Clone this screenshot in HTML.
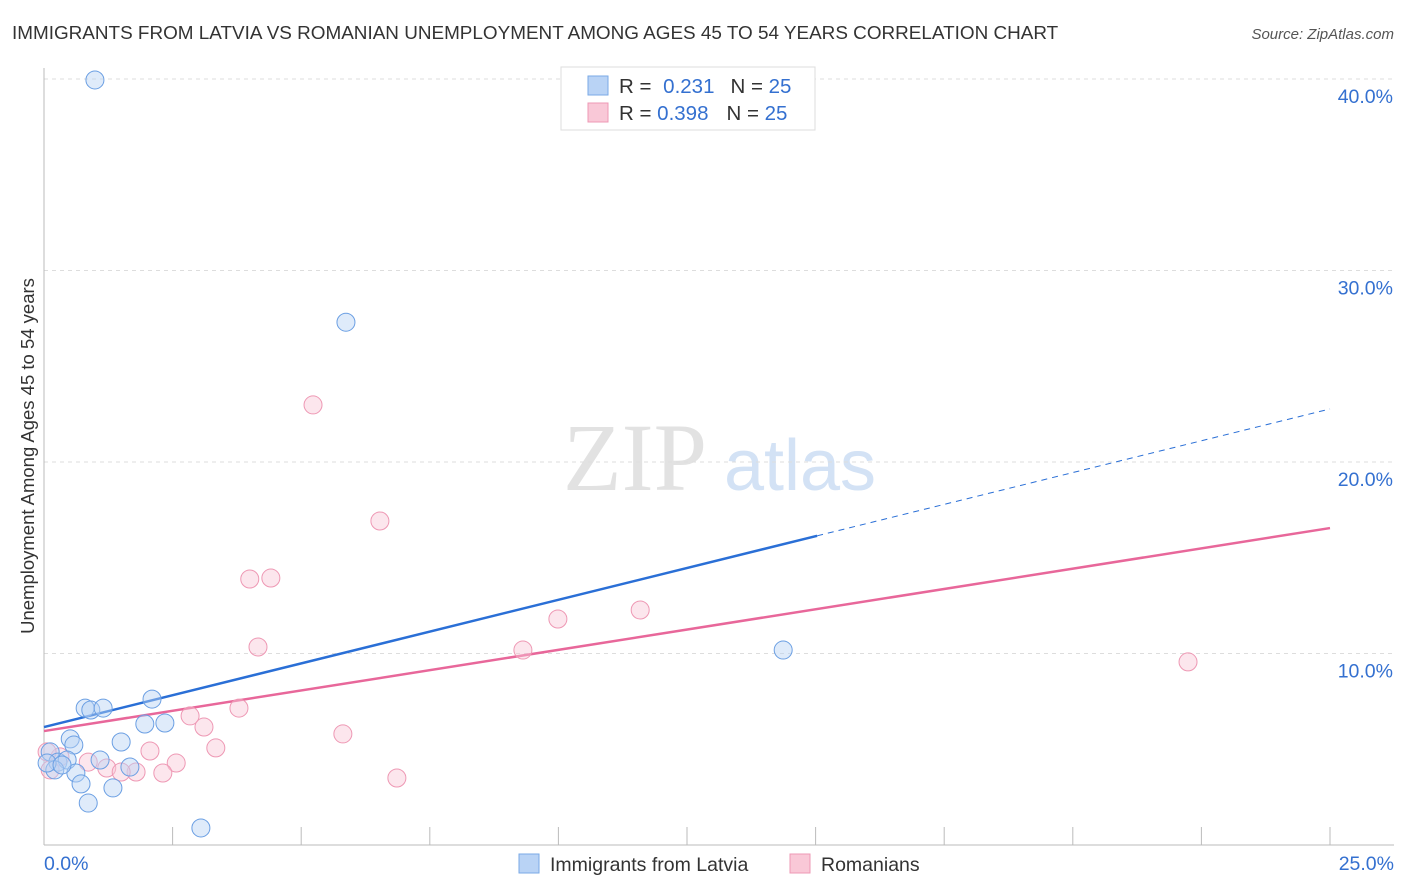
<!DOCTYPE html>
<html><head><meta charset="utf-8"><style>
body{margin:0;background:#fff;font-family:"Liberation Sans",sans-serif;}
svg{display:block}
</style></head><body>
<svg id="chart" width="1406" height="892">
<text x="12" y="39" font-size="18.9" fill="#333">IMMIGRANTS FROM LATVIA VS ROMANIAN UNEMPLOYMENT AMONG AGES 45 TO 54 YEARS CORRELATION CHART</text>
<text x="1394" y="39" font-size="15" fill="#555" font-style="italic" text-anchor="end">Source: ZipAtlas.com</text>
<text x="34" y="456" font-size="18.5" fill="#333" text-anchor="middle" transform="rotate(-90 34 456)">Unemployment Among Ages 45 to 54 years</text>
<g><text x="635" y="490" font-size="96" fill="#e2e2e2" font-family="Liberation Serif,serif" text-anchor="middle">ZIP</text><text x="800" y="490" font-size="72" fill="#d3e2f5" text-anchor="middle">atlas</text></g>
<g id="grid"></g><g id="axes"></g><g id="trends"></g><g id="pts"></g>
<g>
<rect x="561" y="67" width="254" height="63" fill="#fff" stroke="#ddd"/>
<rect x="588" y="76" width="20" height="19" fill="#b9d3f5" stroke="#7aaae6"/>
<rect x="588" y="103" width="20" height="19" fill="#f9c8d7" stroke="#ee98b4"/>
<text x="619" y="93" font-size="20.5" fill="#333">R = <tspan fill="#3470d0" dx="6">0.231</tspan><tspan dx="16" fill="#333">N = </tspan><tspan fill="#3470d0">25</tspan></text>
<text x="619" y="120" font-size="20.5" fill="#333">R = <tspan fill="#3470d0">0.398</tspan><tspan dx="18" fill="#333">N = </tspan><tspan fill="#3470d0">25</tspan></text>
</g>
<g>
<rect x="519" y="854" width="20" height="19" fill="#b9d3f5" stroke="#7aaae6"/>
<text x="550" y="871" font-size="19.5" fill="#333">Immigrants from Latvia</text>
<rect x="790" y="854" width="20" height="19" fill="#f9c8d7" stroke="#ee98b4"/>
<text x="821" y="871" font-size="19.5" fill="#333">Romanians</text>
</g>
</svg>
<script>
const yTicks=[10,20,30,40];
const yTickLabels=["10.0%","20.0%","30.0%","40.0%"];
const latviaX=[0.99,5.87,14.37,2.10,0.80,0.91,1.15,1.96,2.35,0.51,1.50,0.58,0.12,0.27,0.45,1.09,0.21,0.62,1.67,0.72,1.34,0.86,3.05,0.06,0.35];
const latviaY=[39.95,27.3,10.18,7.62,7.15,7.05,7.15,6.32,6.37,5.54,5.38,5.22,4.86,4.33,4.44,4.44,3.92,3.76,4.07,3.19,2.98,2.19,0.89,4.28,4.18];
const romX=[5.23,6.53,4.00,4.41,4.16,9.99,11.59,9.31,22.24,3.79,2.84,3.11,5.81,3.34,2.06,2.57,1.22,1.79,1.50,2.31,6.86,0.31,0.06,0.86,0.12];
const romY=[22.98,16.92,13.89,13.94,10.34,11.8,12.27,10.18,9.56,7.15,6.74,6.16,5.80,5.07,4.91,4.28,4.02,3.81,3.81,3.76,3.50,4.60,4.86,4.33,3.92];
const latviaTrend=[6.16,22.77];
const romTrend=[5.95,16.55];
const latviaSolidEnd=15.03;
const NS="http://www.w3.org/2000/svg";
const sx=v=>44+v*51.44, sy=v=>845-v*19.15;
function mk(t,a,p){const e=document.createElementNS(NS,t);for(const k in a)e.setAttribute(k,a[k]);p.appendChild(e);return e;}
const grid=document.getElementById('grid'),axes=document.getElementById('axes'),tr=document.getElementById('trends'),pts=document.getElementById('pts');
yTicks.forEach((v,i)=>{
 const l=mk('line',{x1:44,x2:1394,y1:sy(v),y2:sy(v),stroke:'#ddd','stroke-dasharray':'4,4'},grid);
 
 
 const t=mk('text',{x:1393,y:sy(v)+24,'font-size':19.5,fill:'#3470d0','text-anchor':'end'},axes);
 t.textContent=yTickLabels[i];
 
 
});
mk('line',{x1:44,x2:44,y1:68,y2:845,stroke:'#bbb'},axes);
mk('line',{x1:44,x2:1394,y1:845,y2:845,stroke:'#bbb'},axes);
for(let i=1;i<=10;i++){const x=sx(i*2.5);mk('line',{x1:x,x2:x,y1:827,y2:845,stroke:'#bbb'},axes);}
const x0=mk('text',{x:44,y:870,'font-size':19.5,fill:'#3470d0'},axes);x0.textContent='0.0%';


const x1=mk('text',{x:1394,y:870,'font-size':19.5,fill:'#3470d0','text-anchor':'end'},axes);x1.textContent='25.0%';


function drawPts(X,Y,f,s,n){X.forEach((x,i)=>{const c=mk('circle',{cx:sx(x),cy:sy(Y[i]),r:9,fill:f,'fill-opacity':0.45,stroke:s,'stroke-width':1},pts);
 
 });}
drawPts(romX,romY,'#f9c8d7','#ee98b4','point-romanians');
drawPts(latviaX,latviaY,'#b9d3f5','#6b9fe3','point-latvia');
const lerp=(t,x)=>t[0]+(t[1]-t[0])*x/25;
let a=mk('line',{x1:sx(0),y1:sy(lerp(latviaTrend,0)),x2:sx(latviaSolidEnd),y2:sy(lerp(latviaTrend,latviaSolidEnd)),stroke:'#2a6fd6','stroke-width':2.5},tr);


a=mk('line',{x1:sx(latviaSolidEnd),y1:sy(lerp(latviaTrend,latviaSolidEnd)),x2:sx(25),y2:sy(lerp(latviaTrend,25)),stroke:'#2a6fd6','stroke-width':1,'stroke-dasharray':'6,5'},tr);


a=mk('line',{x1:sx(0),y1:sy(romTrend[0]),x2:sx(25),y2:sy(romTrend[1]),stroke:'#e8679a','stroke-width':2.5},tr);


</script>
</body></html>
